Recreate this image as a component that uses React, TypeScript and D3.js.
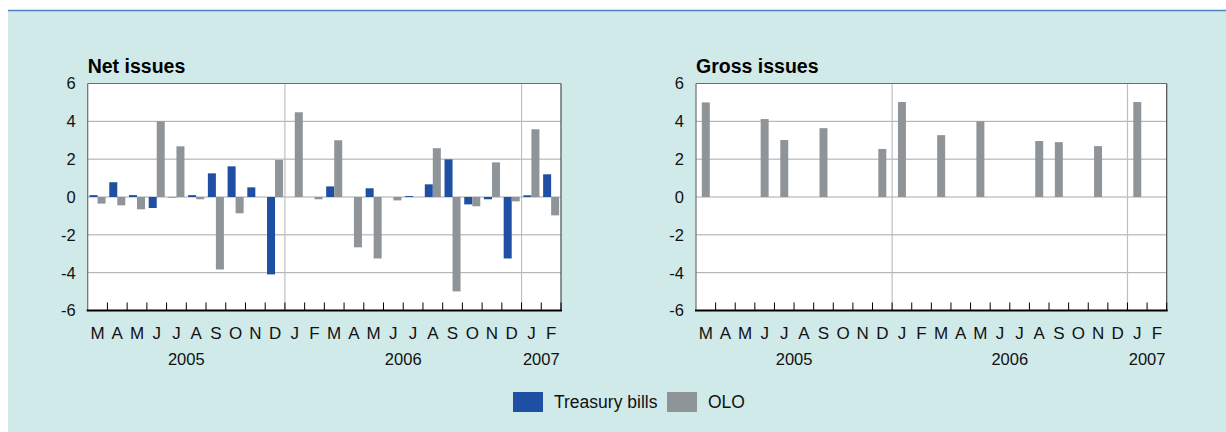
import React from "react";
import * as d3 from "d3";

// months from March 2005 to February 2007
const months = ["M", "A", "M", "J", "J", "A", "S", "O", "N", "D", "J", "F", "M", "A", "M", "J", "J", "A", "S", "O", "N", "D", "J", "F"];
const yearLabels = ["2005", "2006", "2007"];
const yearMonthCounts = [10, 12, 2];
const yTicks = [-6, -4, -2, 0, 2, 4, 6];

const treasuryNet = [0.1, 0.78, 0.1, -0.58, -0.02, 0.1, 1.25, 1.62, 0.51, -4.09, 0, 0, 0.56, 0, 0.46, 0, 0.05, 0.67, 1.99, -0.39, -0.12, -3.25, 0.09, 1.2];
const oloNet = [-0.35, -0.44, -0.65, 4.0, 2.68, -0.12, -3.83, -0.86, 0, 1.96, 4.48, -0.12, 3.0, -2.66, -3.25, -0.18, 0, 2.58, -4.99, -0.49, 1.83, -0.23, 3.58, -0.97];
const oloGross = [5.0, 0, 0, 4.12, 3.01, 0, 3.64, 0, 0, 2.54, 5.02, 0, 3.27, 0, 4.0, 0, 0, 2.96, 2.9, 0, 2.69, 0, 5.02, 0];

const BLUE = "#1f4fa3";
const GREY = "#8f9499";
const BG = "#d0eaea";
const FONT = "'Liberation Sans', Arial, sans-serif";

const top = 83.5;
const bottom = 310.5;

type Series = { key: string; color: string; values: number[] };

function Panel({ left, right, title, series }: { left: number; right: number; title: string; series: Series[] }) {
  const idx = months.map((_, i) => i);
  const x = d3.scaleBand<number>().domain(idx).range([left, right]).padding(0);
  const y = d3.scaleLinear().domain([-6, 6]).range([bottom, top]);
  const bw = x.bandwidth();
  const inner = d3
    .scaleBand<string>()
    .domain(series.map((s) => s.key))
    .range([0, bw])
    .paddingInner(0)
    .paddingOuter(series.length > 1 ? 0.23 : 0.73);

  // year boundaries
  const starts: number[] = [];
  let acc = 0;
  yearMonthCounts.forEach((c) => {
    starts.push(acc);
    acc += c;
  });

  return (
    <g>
      <rect x={left} y={top} width={right - left} height={bottom - top} fill="#fff" />
      {yTicks
        .filter((t) => t !== 6 && t !== -6)
        .map((t) => (
          <line key={t} x1={left} x2={right} y1={y(t)} y2={y(t)} stroke="#a5a8aa" strokeWidth={1} />
        ))}
      {starts.slice(1).map((s) => (
        <line key={s} x1={x(s)} x2={x(s)} y1={top} y2={bottom} stroke="#bdbfc1" strokeWidth={1.2} />
      ))}
      {series.map((s) =>
        s.values.map((v, i) =>
          v === 0 ? null : (
            <rect
              key={s.key + i}
              x={(x(i) as number) + (inner(s.key) as number)}
              width={inner.bandwidth()}
              y={y(Math.max(0, v))}
              height={Math.abs(y(v) - y(0))}
              fill={s.color}
            />
          )
        )
      )}
      <line x1={left} x2={right} y1={top} y2={top} stroke="#6b6e70" strokeWidth={1.2} />
      <line x1={right} x2={right} y1={top} y2={bottom} stroke="#4a4c4e" strokeWidth={1.2} />
      <line x1={left} x2={left} y1={top} y2={bottom} stroke="#6b6e70" strokeWidth={1.2} />
      {d3.range(1, months.length + 1).map((k) => {
        const xx = k === months.length ? right : (x(k) as number);
        return <line key={k} x1={xx} x2={xx} y1={bottom} y2={bottom - 8} stroke="#000" strokeWidth={1} />;
      })}
      <line x1={left - 1} x2={right + 1} y1={bottom} y2={bottom} stroke="#000" strokeWidth={2} />
      {yTicks.map((t) => (
        <text key={t} x={left - 12} y={y(t)} dy="0.36em" textAnchor="end" fontSize={16.5} fontFamily={FONT} fill="#111">
          {t}
        </text>
      ))}
      {months.map((m, i) => (
        <text key={i} x={(x(i) as number) + bw / 2} y={339} textAnchor="middle" fontSize={17} fontFamily={FONT} fill="#111">
          {m}
        </text>
      ))}
      {yearLabels.map((yl, j) => (
        <text
          key={yl}
          x={(x(starts[j]) as number) + (yearMonthCounts[j] * bw) / 2}
          y={365}
          textAnchor="middle"
          fontSize={16.5}
          fontFamily={FONT}
          fill="#111"
        >
          {yl}
        </text>
      ))}
      <text x={left} y={73} fontSize={19.5} fontWeight="bold" fontFamily={FONT} fill="#000">
        {title}
      </text>
    </g>
  );
}

export default function App() {
  const legend = [
    { label: "Treasury bills", color: BLUE, x: 513 },
    { label: "OLO", color: GREY, x: 667 },
  ];
  return (
    <svg width={1226} height={432} style={{ position: "absolute", left: 0, top: 0 }}>
      <rect x={0} y={0} width={1226} height={432} fill="#fff" />
      <rect x={8} y={10} width={1218} height={422} fill={BG} />
      <line x1={8} x2={1226} y1={10.5} y2={10.5} stroke="#4f84c4" strokeWidth={1.5} />
      <Panel
        left={87.7}
        right={561}
        title="Net issues"
        series={[
          { key: "tb", color: BLUE, values: treasuryNet },
          { key: "olo", color: GREY, values: oloNet },
        ]}
      />
      <Panel left={696} right={1166.7} title="Gross issues" series={[{ key: "olo", color: GREY, values: oloGross }]} />
      {legend.map((l) => (
        <g key={l.label}>
          <rect x={l.x} y={392} width={30} height={20} fill={l.color} />
          <text x={l.x + 41} y={408} fontSize={17.5} fontFamily={FONT} fill="#111">
            {l.label}
          </text>
        </g>
      ))}
    </svg>
  );
}
